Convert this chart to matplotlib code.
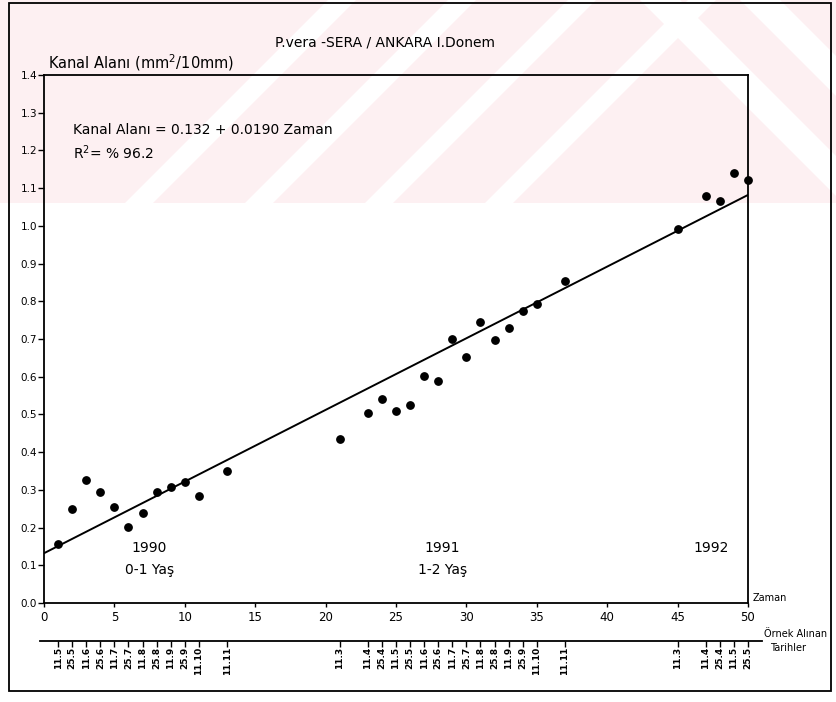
import numpy as np
import matplotlib
matplotlib.use("Agg")
import matplotlib.pyplot as plt
from matplotlib.patches import Rectangle, Polygon

# Sampling time index (Zaman) and measured canal area (mm2/10mm)
zaman = [1, 2, 3, 4, 5, 6, 7, 8, 9, 10, 11, 13,
         21, 23, 24, 25, 26, 27, 28, 29, 30, 31, 32, 33, 34, 35, 37,
         45, 47, 48, 49, 50]
kanal_alani = [0.157, 0.250, 0.326, 0.294, 0.255, 0.202, 0.238, 0.294, 0.308, 0.321, 0.284, 0.350,
               0.435, 0.504, 0.541, 0.509, 0.525, 0.603, 0.589, 0.700, 0.653, 0.745, 0.698, 0.729,
               0.775, 0.792, 0.854,
               0.992, 1.080, 1.066, 1.140, 1.122]

# Regression: Kanal Alani = a + b * Zaman
intercept = 0.132
slope = 0.0190

# Sampling dates shown on the second axis
tarih_pos = [1, 2, 3, 4, 5, 6, 7, 8, 9, 10, 11, 13,
             21, 23, 24, 25, 26, 27, 28, 29, 30, 31, 32, 33, 34, 35, 37,
             45, 47, 48, 49, 50]
tarih_lbl = ["11.5", "25.5", "11.6", "25.6", "11.7", "25.7", "11.8", "25.8", "11.9", "25.9", "11.10", "11.11",
             "11.3", "11.4", "25.4", "11.5", "25.5", "11.6", "25.6", "11.7", "25.7", "11.8", "25.8", "11.9",
             "25.9", "11.10", "11.11",
             "11.3", "11.4", "25.4", "11.5", "25.5"]

x_ticks = [0, 5, 10, 15, 20, 25, 30, 35, 40, 45, 50]
y_ticks = [0.0, 0.1, 0.2, 0.3, 0.4, 0.5, 0.6, 0.7, 0.8, 0.9, 1.0, 1.1, 1.2, 1.3, 1.4]

plt.rcParams["font.family"] = ["DejaVu Sans"]
plt.rcParams["mathtext.default"] = "regular"

W, H = 837, 702
fig = plt.figure(figsize=(W / 100, H / 100), dpi=100)

# faint watermark band behind the upper part of the page
bg = fig.add_axes([0, 0, 1, 1], zorder=-5)
bg.set_xlim(0, W)
bg.set_ylim(H, 0)
bg.axis("off")
pink = "#fdf0f2"
bg.add_patch(Rectangle((0, 0), W, 203, facecolor=pink, edgecolor="none"))
for x0 in [125, 245, 365, 485]:
    bg.add_patch(Polygon([(x0, 203), (x0 + 28, 203), (x0 + 28 + 203, 0), (x0 + 203, 0)],
                         closed=True, facecolor="white", edgecolor="none"))
for x0 in [640, 740]:
    bg.add_patch(Polygon([(x0, 0), (x0 + 40, 0), (x0 + 40 + 203, 203), (x0 + 203, 203)],
                         closed=True, facecolor="white", edgecolor="none"))
# page frame
bg.add_patch(Rectangle((9, 3), 822, 688, facecolor="none", edgecolor="black", lw=1.3))

# main plot
left, right = 44 / W, 748 / W
bottom, top = 1 - 603 / H, 1 - 75 / H
ax = fig.add_axes([left, bottom, right - left, top - bottom])
ax.patch.set_alpha(0)
ax.set_xlim(0, 50)
ax.set_ylim(0, 1.4)
for s in ax.spines.values():
    s.set_linewidth(1.3)

ax.scatter(zaman, kanal_alani, s=28, color="black", zorder=3, clip_on=False)
xl = np.array([0, 50])
ax.plot(xl, intercept + slope * xl, color="black", lw=1.4)

ax.set_xticks(x_ticks)
ax.set_xticklabels([str(v) for v in x_ticks])
ax.set_yticks(y_ticks)
ax.set_yticklabels([f"{v:.1f}" for v in y_ticks])
ax.tick_params(axis="y", direction="out", length=4, width=1, labelsize=7.5, pad=1)
ax.tick_params(axis="x", direction="out", length=3, width=1, labelsize=8.5, pad=3)

txt = dict(color="black")
ax.text(7.5, 0.145, "1990", ha="center", va="center", fontsize=10, **txt)
ax.text(7.5, 0.088, "0-1 Yaş", ha="center", va="center", fontsize=10, **txt)
ax.text(28.3, 0.145, "1991", ha="center", va="center", fontsize=10, **txt)
ax.text(28.3, 0.088, "1-2 Yaş", ha="center", va="center", fontsize=10, **txt)
ax.text(47.4, 0.145, "1992", ha="center", va="center", fontsize=10, **txt)
ax.text(50.3, 0.0, "Zaman", ha="left", va="bottom", fontsize=7, **txt)

ax.text(0.041, 0.896, "Kanal Alanı = 0.132 + 0.0190 Zaman", transform=ax.transAxes,
        ha="left", va="center", fontsize=10, **txt)
ax.text(0.041, 0.852, "R$^2$= % 96.2", transform=ax.transAxes,
        ha="left", va="center", fontsize=10, **txt)

fig.text(385 / W, 1 - 42 / H, "P.vera -SERA / ANKARA I.Donem", ha="center", va="center", fontsize=10)
fig.text(48 / W, 1 - 63 / H, "Kanal Alanı (mm$^2$/10mm)", ha="left", va="center", fontsize=10.5)

# sampling-date axis below the main plot
x_lo = (40 - 44) / 14.08
x_hi = (762 - 44) / 14.08
axd = fig.add_axes([40 / W, 1 - 641 / H, 722 / W, 0.0001])
axd.patch.set_alpha(0)
axd.set_xlim(x_lo, x_hi)
axd.set_ylim(0, 1)
for k in ["left", "right", "bottom"]:
    axd.spines[k].set_visible(False)
axd.spines["top"].set_linewidth(1.3)
axd.xaxis.set_ticks_position("top")
axd.set_yticks([])
axd.set_xticks(tarih_pos)
axd.set_xticklabels([])
axd.tick_params(axis="x", direction="in", length=4, width=1, top=True, bottom=False)
for p, lbl in zip(tarih_pos, tarih_lbl):
    axd.annotate(lbl, (p, 0), xycoords=("data", "axes fraction"), xytext=(0, -4),
                 textcoords="offset points", rotation=90, ha="center", va="top",
                 fontsize=6.5, fontweight="bold")
fig.text(764 / W, 1 - 634 / H, "Örnek Alınan", ha="left", va="center", fontsize=7)
fig.text(770 / W, 1 - 648 / H, "Tarihler", ha="left", va="center", fontsize=7)

fig.savefig("out.png", dpi=100)
